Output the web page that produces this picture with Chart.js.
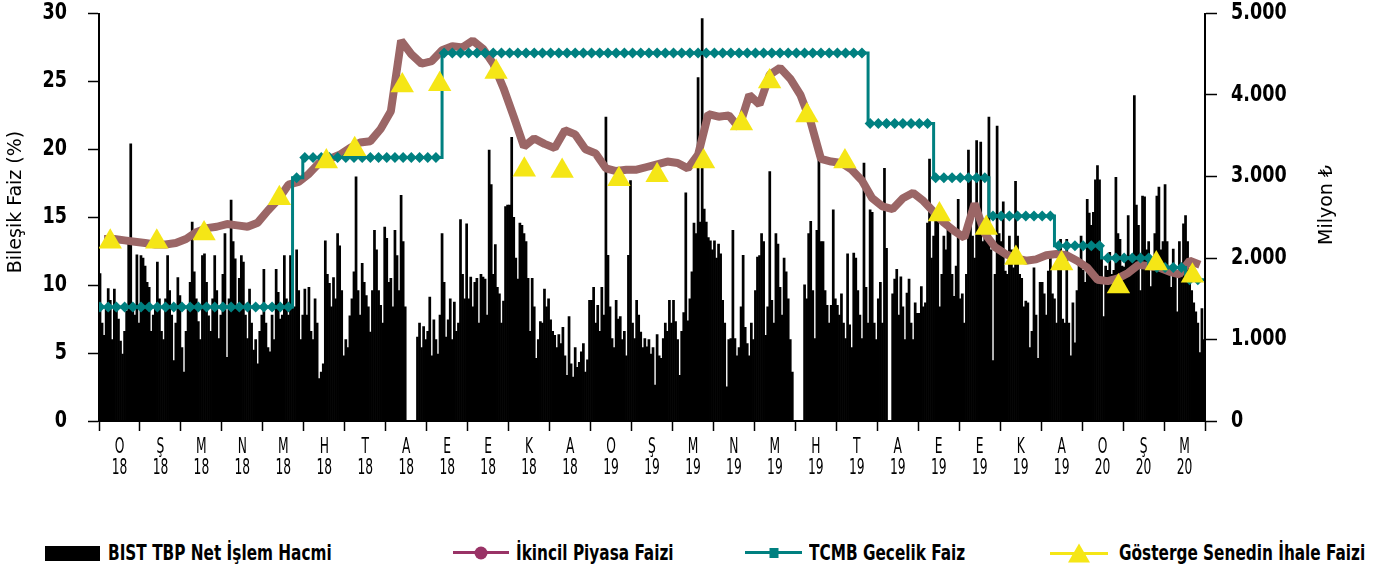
<!DOCTYPE html>
<html lang="tr">
<head>
  <meta charset="UTF-8" />
  <title>BIST TBP İşlem Hacmi ve Faizler</title>
  <style>
    body {
      margin: 0;
      background-color: #ffffff;
    }
    .kutu {
      position: relative;
      width: 1375px;
      height: 570px;
    }
    #grafik {
      position: absolute;
      left: 0;
      top: 0;
    }
    .lejant {
      position: absolute;
      top: 539px;
      height: 28px;
      display: flex;
      align-items: center;
      font: bold 21px 'DejaVu Sans Condensed', 'DejaVu Sans', sans-serif;
      color: #000;
      white-space: nowrap;
    }
    .lejant span {
      display: inline-block;
      transform: scaleX(0.81);
      transform-origin: left center;
    }
    .isaret {
      position: relative;
      width: 56px;
      height: 16px;
      margin-right: 7px;
    }
    .cizgi {
      position: absolute;
      left: 0;
      right: 0;
      top: 6px;
      height: 3px;
    }
    .nokta {
      position: absolute;
      left: 50%;
      top: 50%;
      transform: translate(-50%, -50%);
    }
  </style>
</head>
<body>
  <div class="kutu">
    <canvas id="grafik" width="1375" height="500"></canvas>

    <div class="lejant" style="left:45px">
      <div class="isaret" style="width:55px;height:15px;background:#000;margin-right:8px"></div>
      <span>BIST TBP Net İşlem Hacmi</span>
    </div>
    <div class="lejant" style="left:453px">
      <div class="isaret">
        <div class="cizgi" style="background:#993366"></div>
        <div class="nokta" style="width:13px;height:13px;border-radius:50%;background:#993366"></div>
      </div>
      <span>İkincil Piyasa Faizi</span>
    </div>
    <div class="lejant" style="left:745px">
      <div class="isaret" style="width:57px">
        <div class="cizgi" style="background:#008080"></div>
        <div class="nokta" style="width:9px;height:10px;background:#008080"></div>
      </div>
      <span>TCMB Gecelik Faiz</span>
    </div>
    <div class="lejant" style="left:1050px">
      <div class="isaret" style="width:58px;height:20px;margin-right:11px">
        <div class="cizgi" style="background:#f5e616;top:9px"></div>
        <div class="nokta" style="width:0;height:0;border-left:11px solid transparent;border-right:11px solid transparent;border-bottom:19px solid #f5e616"></div>
      </div>
      <span>Gösterge Senedin İhale Faizi</span>
    </div>
  </div>

  <script src="https://cdn.jsdelivr.net/npm/chart.js"></script>
  <script>
    const GUN = 20;   // her ay için günlük dilim sayısı
    const HAFTA = 4;  // ikincil piyasa faizi: ay başına gözlem

    const ayHarf = ['O','Ş','M','N','M','H','T','A','E','E','K','A',
                    'O','Ş','M','N','M','H','T','A','E','E','K','A',
                    'O','Ş','M'];
    const ayYil = ['18','18','18','18','18','18','18','18','18','18','18','18',
                   '19','19','19','19','19','19','19','19','19','19','19','19',
                   '20','20','20'];

    // BIST TBP net işlem hacmi (milyon TL), ay başına 20 dilim
    const hacim2018 = [
      1810,1200,1050,1380,1625,1480,1000,1620,1430,1250,980,820,1100,1350,2200,3400,1400,1300,2040,1200,
      2030,2000,1900,1700,1640,1100,1300,1400,1950,1500,1100,1000,1500,2030,1600,1300,740,1200,1760,1540,
      900,600,1100,1400,1700,2440,1830,1500,1220,1000,2030,2050,1700,1290,1100,1500,2030,1600,1010,1300,
      1800,2300,780,1500,2710,2200,1990,1400,1750,2030,1950,1300,1010,1620,1200,870,1000,700,1100,1300,
      1860,1200,900,850,1300,1000,1860,1580,1250,1300,2030,1500,1300,2030,1700,1400,2100,1600,1000,1300,
      1620,1300,1640,1100,1000,1500,1200,520,600,700,2210,1800,1690,1400,1760,1500,2300,2150,1600,800,
      1000,900,1290,1500,1830,2995,1600,1300,1935,1700,1540,1400,1090,1600,2340,2100,1600,1420,1200,2380,
      2240,1700,1750,1400,2340,2030,1600,2770,2200,1400,0,0,0,0,0,1030,1200,900,1160,1000,
      1100,1520,800,1240,1000,820,1300,2300,1700,1030,1240,1500,1000,1460,1100,1200,2470,1800,1500,2420,
      1500,1765,1400,1700,1750,1200,1800,1765,1740,1300,3323,2900,1800,2164,1640,1560,1200,1470,2630,2650,
      2650,3480,2500,2000,1740,2430,2400,2300,2200,1750,1100,1750,1400,770,1000,1220,1200,1620,1400,1500,
      1240,1100,1050,900,1060,950,1150,800,560,1280,700,540,900,660,720,850,950,600,750,1480
    ];
    const hacim2019 = [
      1480,1640,1200,1420,1100,1640,1300,3728,2034,1400,1010,900,1480,1250,1280,1000,1100,800,2034,2950,
      1200,1010,1480,1300,1090,900,1010,910,1000,820,900,440,1060,800,770,1010,1200,1100,1480,1200,
      1480,1220,1000,560,1100,1330,2800,1230,1500,1830,2430,2300,4214,2440,4937,2600,2440,2250,2210,2100,
      2210,2000,2170,2050,1480,1200,420,1000,1010,2340,1010,800,900,1400,2034,1150,950,800,1200,1000,
      1600,2010,2030,2300,2200,1050,1400,3060,1480,1200,2300,2170,1640,1300,2000,1830,1500,1000,600,0,
      0,0,0,0,1670,1500,2300,2450,1600,1010,2340,3280,2200,2200,1600,1420,1200,1420,2590,1500,
      1420,1300,1560,1200,1010,2050,1180,900,2060,2000,1600,1300,1010,3165,1640,1200,2590,2560,1200,1000,
      1500,1700,1200,3100,2120,0,0,1560,1740,1860,1300,1770,1400,1000,1570,1740,1200,1000,1450,1320,
      1320,1650,1400,1450,2430,3215,2000,2270,2570,2590,1400,1800,2270,2100,2440,2400,1800,1530,1900,2720,
      1500,1560,1200,1800,3323,2960,2270,2000,3440,2500,3421,2200,2430,2300,3728,2100,740,1800,3620,2300,
      2200,2690,1840,1800,2270,2100,1880,2940,2270,1800,1750,1400,1470,1450,900,1100,1880,1300,770,1700,
      1700,1560,1300,1840,2010,1560,1500,1200,2100,2230,1250,1200,2230,1200,800,1450,960,1600,1940,2270
    ];
    const hacim2020 = [
      1850,1700,2720,2550,2400,2560,2960,3135,2960,2000,1280,1900,1850,2070,1800,1850,2990,2300,2230,1900,
      1890,2000,2520,2030,1950,3993,2650,2400,1600,2760,2750,2100,2200,1650,2000,2300,2760,2870,2100,2200,
      2900,2200,1900,1640,2110,1800,1340,2200,1900,2420,2520,2200,1790,1600,1450,1340,1200,840,1380,1000
    ];

    // İkincil piyasa faizi (%), ay başına 4 gözlem
    const ikincil2018 = [
      13.4,13.4,13.3,13.2,  13.1,13.0,13.0,13.1,  13.4,13.9,14.2,14.3,  14.5,14.4,14.3,14.6,
      15.5,16.3,17.4,17.6,  18.2,19.0,19.3,19.6,  20.1,20.5,20.6,21.5,  22.8,28.0,27.0,26.3,
      26.5,27.3,27.6,27.5,  28.0,27.4,26.3,24.5,  22.4,20.2,20.8,20.4,  20.1,21.4,21.1,20.0
    ];
    const ikincil2019 = [
      19.7,18.6,18.4,18.5,  18.5,18.7,18.9,19.1,  19.0,18.6,19.6,22.6,  22.4,22.5,21.6,24.0,
      23.3,25.5,26.0,25.2,  24.0,22.0,19.3,19.1,  19.0,18.5,17.7,16.4,  15.8,15.6,16.4,16.8,
      16.2,15.4,14.6,14.0,  13.5,16.0,13.8,12.8,  12.3,12.0,11.8,11.9,  12.2,12.3,12.2,11.8
    ];
    const ikincil2020 = [
      11.3,10.4,10.3,10.5,  10.9,11.5,11.4,11.3,  11.0,10.8,11.8,11.5
    ];

    // TCMB gecelik faiz (%) değişim tarihleri
    const tcmbTarih = ['2018-01-01','2018-05-24','2018-06-01','2018-09-13','2019-07-25',
                       '2019-09-12','2019-10-24','2019-12-12','2020-01-16','2020-02-19','2020-03-17'];
    const tcmbFaiz = [8.4, 17.9, 19.4, 27.1, 21.9, 17.9, 15.1, 12.9, 12.0, 11.3, 10.4];

    // Gösterge senedin ihale faizi (%)
    const ihaleTarih = ['2018-01-09','2018-02-12','2018-03-18','2018-05-13','2018-06-17','2018-07-08',
                        '2018-08-13','2018-09-10','2018-10-22','2018-11-12','2018-12-10','2019-01-22',
                        '2019-02-18','2019-03-24','2019-04-21','2019-05-12','2019-06-09','2019-07-07',
                        '2019-09-16','2019-10-21','2019-11-12','2019-12-16','2020-01-28','2020-02-24',
                        '2020-03-22'];
    const ihaleFaiz = [13.2, 13.2, 13.8, 16.4, 19.1, 20.0, 24.7, 24.8, 25.7, 18.5, 18.4, 17.8,
                       18.1, 19.1, 21.9, 25.0, 22.5, 19.1, 15.2, 14.2, 12.0, 11.6, 9.9, 11.6, 10.7];

    // tarih -> ay ekseni konumu (Ocak 2018 = 0)
    function ayKonum(tarih) {
      const [y, m, d] = tarih.split('-').map(Number);
      const gunSayisi = new Date(y, m, 0).getDate();
      return (y - 2018) * 12 + (m - 1) + (d - 0.5) / gunSayisi;
    }

    function aylikNoktalar(diziler, adet) {
      const sonuc = [];
      diziler.forEach((dizi, yil) => {
        dizi.forEach((deger, i) => {
          const ay = yil * 12 + Math.floor(i / adet);
          sonuc.push({ x: ay + ((i % adet) + 0.5) / adet, y: deger });
        });
      });
      return sonuc;
    }

    const hacimNokta = aylikNoktalar([hacim2018, hacim2019, hacim2020], GUN);
    const ikincilNokta = aylikNoktalar([ikincil2018, ikincil2019, ikincil2020], HAFTA);

    // gecelik faiz: günlük dilimlerde yürürlükteki oran
    const tcmbKonum = tcmbTarih.map(ayKonum);
    const tcmbNokta = hacimNokta.map(p => {
      let oran = tcmbFaiz[0];
      tcmbKonum.forEach((k, i) => { if (p.x >= k) oran = tcmbFaiz[i]; });
      return { x: p.x, y: oran };
    });

    const ihaleNokta = ihaleTarih.map((t, i) => ({ x: ayKonum(t), y: ihaleFaiz[i] }));

    const YAZI = "'DejaVu Sans Condensed', 'DejaVu Sans', sans-serif";

    // dar yazı tipi yok; etiketleri yatayda sıkıştırarak yazıyoruz
    function darYazi(ctx, yazi, x, y, olcek, hiza) {
      ctx.save();
      ctx.translate(x, y);
      ctx.scale(olcek, 1);
      ctx.textAlign = hiza;
      ctx.fillText(yazi, 0, 0);
      ctx.restore();
    }

    const etiketler = {
      id: 'etiketler',
      afterDraw(chart) {
        const ctx = chart.ctx;
        const { x, y, y1 } = chart.scales;
        const alan = chart.chartArea;
        ctx.save();
        ctx.fillStyle = '#000';
        ctx.textBaseline = 'middle';

        ctx.font = 'bold 23px ' + YAZI;
        y.ticks.forEach(t => darYazi(ctx, String(t.value), alan.left - 32, y.getPixelForValue(t.value), 0.85, 'right'));
        y1.ticks.forEach(t => {
          const yazi = String(t.value).replace(/\B(?=(\d{3})+(?!\d))/g, '.');
          darYazi(ctx, yazi, alan.right + 26, y1.getPixelForValue(t.value), 0.85, 'left');
        });

        ctx.font = '22px ' + YAZI;
        x.ticks.forEach(t => {
          if (Number.isInteger(t.value)) return;
          const i = Math.floor(t.value);
          const px = x.getPixelForValue(t.value);
          darYazi(ctx, ayHarf[i], px, alan.bottom + 26, 0.62, 'center');
          darYazi(ctx, ayYil[i], px, alan.bottom + 47, 0.62, 'center');
        });

        ctx.font = "19px 'DejaVu Sans', sans-serif";
        ctx.textAlign = 'center';
        [[16, 202, 'Bileşik Faiz (%)'], [1327, 205, 'Milyon ₺']].forEach(([tx, ty, yazi]) => {
          ctx.save();
          ctx.translate(tx, ty);
          ctx.rotate(-Math.PI / 2);
          ctx.fillText(yazi, 0, 0);
          ctx.restore();
        });
        ctx.restore();
      }
    };

    new Chart(document.getElementById('grafik'), {
      type: 'bar',
      data: {
        datasets: [
          {
            type: 'line',
            label: 'Gösterge Senedin İhale Faizi',
            data: ihaleNokta,
            yAxisID: 'y',
            showLine: false,
            pointStyle: 'triangle',
            pointRadius: 13.5,
            pointBackgroundColor: '#f5e616',
            pointBorderWidth: 0,
            order: 1
          },
          {
            type: 'line',
            label: 'TCMB Gecelik Faiz',
            data: tcmbNokta,
            yAxisID: 'y',
            stepped: 'after',
            borderColor: '#008080',
            borderWidth: 3,
            pointStyle: 'rectRot',
            pointRadius: ctx => (ctx.dataIndex % 4 === 0 ? 5.5 : 0),
            pointBackgroundColor: '#008080',
            pointBorderWidth: 0,
            order: 2
          },
          {
            type: 'line',
            label: 'İkincil Piyasa Faizi',
            data: ikincilNokta,
            yAxisID: 'y',
            borderColor: '#9b6666',
            borderWidth: 8,
            borderJoinStyle: 'bevel',
            pointRadius: 0,
            tension: 0,
            order: 3
          },
          {
            type: 'bar',
            label: 'BIST TBP Net İşlem Hacmi',
            data: hacimNokta,
            yAxisID: 'y1',
            backgroundColor: '#000',
            borderWidth: 0,
            barPercentage: 1,
            categoryPercentage: 1,
            order: 4
          }
        ]
      },
      options: {
        responsive: false,
        animation: false,
        layout: { padding: { top: 13, left: 0, right: 0, bottom: 0 } },
        plugins: {
          legend: { display: false },
          tooltip: { enabled: false }
        },
        scales: {
          x: {
            type: 'linear',
            min: 0,
            max: 27,
            offset: false,
            afterBuildTicks: scale => {
              const t = [];
              for (let v = 0; v <= 27; v += 0.5) t.push({ value: v });
              scale.ticks = t;
            },
            afterFit: scale => { scale.height = 79; },
            ticks: { display: false, autoSkip: false, maxRotation: 0 },
            grid: {
              offset: false,
              drawOnChartArea: false,
              drawTicks: true,
              tickLength: 10,
              tickWidth: 1.5,
              tickColor: ctx => (Number.isInteger(ctx.tick.value) ? '#000' : 'rgba(0,0,0,0)')
            },
            border: { display: true, color: '#000', width: 2 }
          },
          y: {
            position: 'left',
            min: 0,
            max: 30,
            afterFit: scale => { scale.width = 99; },
            ticks: { display: false, stepSize: 5 },
            grid: {
              drawOnChartArea: false,
              tickLength: 11,
              tickWidth: 1.5,
              tickColor: '#000'
            },
            border: { display: true, color: '#000', width: 2 }
          },
          y1: {
            position: 'right',
            min: 0,
            max: 5000,
            afterFit: scale => { scale.width = 170; },
            ticks: { display: false, stepSize: 1000 },
            grid: {
              drawOnChartArea: false,
              tickLength: 12,
              tickWidth: 1.5,
              tickColor: '#000'
            },
            border: { display: true, color: '#000', width: 2 }
          }
        }
      },
      plugins: [etiketler]
    });
  </script>
</body>
</html>
